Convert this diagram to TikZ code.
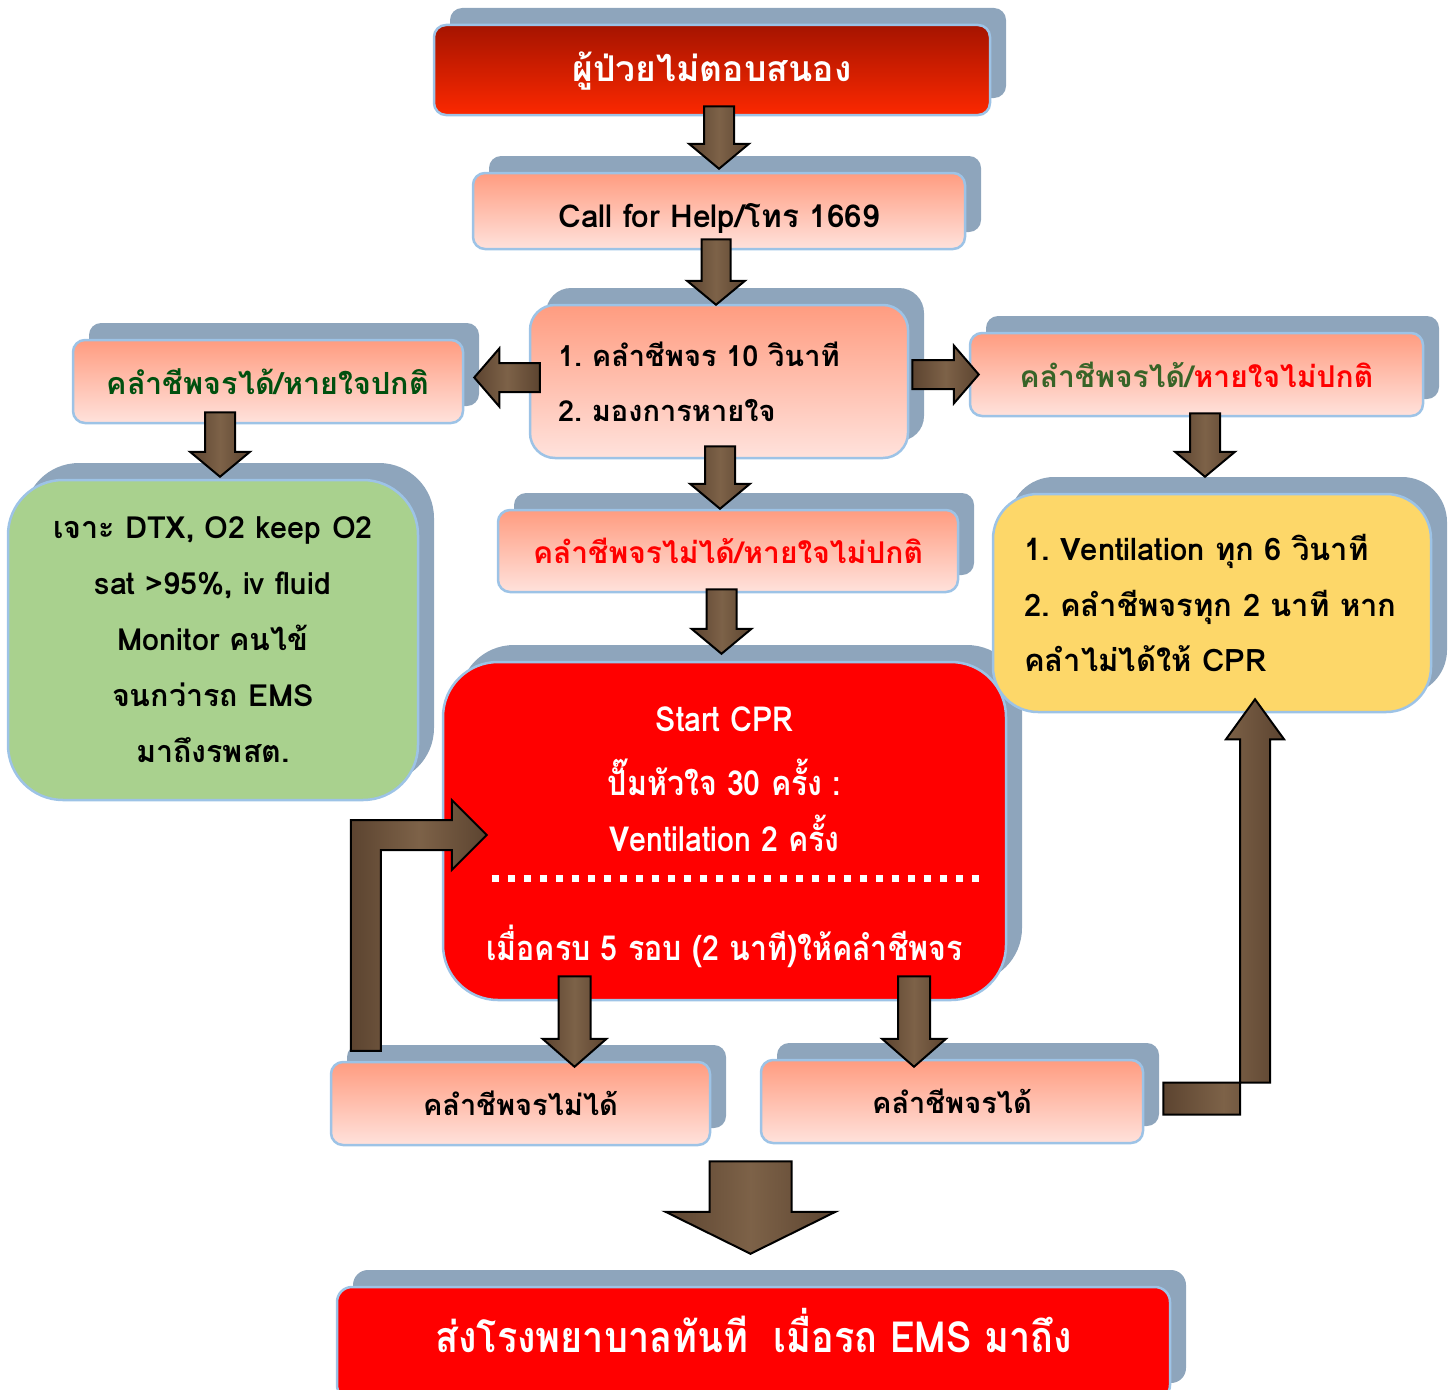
\documentclass[tikz,border=0pt]{standalone}
\usepackage{fontspec}
\newfontfamily\thai[Script=Thai]{Loma Bold}
\newfontfamily\thainarrow[Script=Thai,FakeStretch=0.88]{Loma Bold}
\usetikzlibrary{calc,shadows}
\frenchspacing

\definecolor{shadowblue}{RGB}{142,165,188}
\definecolor{edgeblue}{RGB}{157,195,230}
\definecolor{salmontop}{RGB}{255,156,128}
\definecolor{salmonbot}{RGB}{255,226,220}
\definecolor{darkred}{RGB}{165,20,0}
\definecolor{brightred}{RGB}{252,40,0}
\definecolor{boxgreen}{RGB}{169,209,142}
\definecolor{boxyellow}{RGB}{253,215,105}
\definecolor{txtgreen}{RGB}{0,80,15}
\definecolor{olivegreen}{RGB}{56,100,40}
\definecolor{arrowbrown}{RGB}{92,68,48}
\definecolor{arrowlight}{RGB}{125,98,72}

\tikzset{
  base/.style={rounded corners=12pt, draw=edgeblue, line width=2.5pt, inner sep=0pt,
    general shadow={shadow xshift=16pt, shadow yshift=17pt, fill=shadowblue, draw=none},
    font=\thai\fontsize{29pt}{35pt}\selectfont},
  pinkbox/.style={base, top color=salmontop, bottom color=salmonbot},
  redtop/.style={base, top color=darkred, bottom color=brightred, text=white},
  redbox/.style={base, fill=red, text=white},
  greenbox/.style={base, rounded corners=55pt, fill=boxgreen},
  yellowbox/.style={base, rounded corners=45pt, fill=boxyellow},
  cprtext/.style={text=white, inner sep=0pt, font=\thainarrow\fontsize{34.5pt}{40pt}\selectfont},
  arrowbody/.style={draw=black, line width=2pt, line join=miter,
    left color=arrowbrown, right color=arrowbrown, middle color=arrowlight},
  dotline/.style={white, line width=7pt, dash pattern=on 7pt off 9pt}
}

% block arrow: start, tip, half shaft, half head, head length
\newcommand{\blockarrow}[5]{%
  \coordinate (ba-s) at #1;
  \coordinate (ba-t) at #2;
  \coordinate (ba-h) at ($(ba-t)!#5!(ba-s)$);
  \draw[arrowbody] ($(ba-s)!#3!90:(ba-t)$) -- ($(ba-h)!#3!90:(ba-t)$) -- ($(ba-h)!#4!90:(ba-t)$)
    -- (ba-t) -- ($(ba-h)!#4!-90:(ba-t)$) -- ($(ba-h)!#3!-90:(ba-t)$) -- ($(ba-s)!#3!-90:(ba-t)$) -- cycle;
}

\begin{document}
\begin{tikzpicture}[x=1pt,y=-1pt]
    \useasboundingbox (0,0) rectangle (1455,1389);
    % boxes
    \node[redtop, minimum width=556pt, minimum height=90pt, font=\thai\fontsize{35.5pt}{42pt}\selectfont]
      (onset) at (712,70) {\raisebox{-12pt}[0pt][0pt]{ผู้ป่วยไม่ตอบสนอง}};
    \node[pinkbox, minimum width=492pt, minimum height=76pt, font=\thai\fontsize{31.5pt}{38pt}\selectfont]
      (call) at (719,211) {\raisebox{-16pt}[0pt][0pt]{Call for Help/โทร 1669}};
    \node[pinkbox, rounded corners=25pt, minimum width=378pt, minimum height=153pt,
      align=left, text width=322pt, font=\thai\fontsize{29pt}{55pt}\selectfont] (chk) at (719,381.5)
      {\mbox{1. คลำชีพจร 10 วินาที}\\\mbox{2. มองการหายใจ}};
    \node[pinkbox, minimum width=390pt, minimum height=83pt, text=txtgreen,
      font=\thai\fontsize{30.5pt}{36pt}\selectfont] (normal) at (268,381.5) {คลำชีพจรได้/หายใจปกติ};
    \node[pinkbox, minimum width=453pt, minimum height=83pt, font=\thai\fontsize{30pt}{36pt}\selectfont] (abnormal) at (1196.5,374.5)
      {\textcolor{olivegreen}{คลำชีพจรได้/}\textcolor{red}{หายใจไม่ปกติ}};
    \node[greenbox, minimum width=410pt, minimum height=320pt, align=center, text width=400pt,
      font=\thai\fontsize{30.5pt}{56pt}\selectfont] (green) at (213,640)
      {เจาะ DTX, O2 keep O2\\sat >95\%, iv fluid\\Monitor คนไข้\\จนกว่ารถ EMS\\มาถึงรพสต.};
    \node[pinkbox, minimum width=460pt, minimum height=82pt, text=red,
      font=\thai\fontsize{30pt}{36pt}\selectfont] (middle) at (728,551) {คลำชีพจรไม่ได้/หายใจไม่ปกติ};
    \node[redbox, rounded corners=55pt, minimum width=563pt, minimum height=338pt] (cpr) at (724.5,831) {};
    \node[yellowbox, minimum width=438pt, minimum height=218pt, align=left, text width=376pt,
      font=\thai\fontsize{31pt}{55.5pt}\selectfont] (vent) at (1212,603)
      {\mbox{1. Ventilation ทุก 6 วินาที}\\\mbox{2. คลำชีพจรทุก 2 นาที หาก}\\\mbox{คลำไม่ได้ให้ CPR}};
    \node[pinkbox, minimum width=379pt, minimum height=83pt] (no) at (520.5,1103.5) {คลำชีพจรไม่ได้};
    \node[pinkbox, minimum width=382pt, minimum height=83pt] (yes) at (952,1101.5) {คลำชีพจรได้};
    \node[redbox, rounded corners=15pt, minimum width=833pt, minimum height=113pt,
      font=\thainarrow\fontsize{43pt}{50pt}\selectfont] (final) at (753.5,1343.5)
      {\raisebox{-8.5pt}[0pt][0pt]{ส่งโรงพยาบาลทันที\ \ เมื่อรถ EMS มาถึง}};
    % text in the CPR box
    \node[cprtext] (cpr1) at ($(cpr.north)+(0,58)$) {Start CPR};
    \node[cprtext] (cpr2) at ($(cpr.north)+(0,117)$) {ปั๊มหัวใจ 30 ครั้ง :};
    \node[cprtext] (cpr3) at ($(cpr.north)+(0,173)$) {Ventilation 2 ครั้ง};
    \node[cprtext] (cpr4) at ($(cpr.north)+(0,286)$) {เมื่อครบ 5 รอบ (2 นาที)ให้คลำชีพจร};
    \draw[dotline] ($(cpr.west)+(50,47)$) -- ($(cpr.east)+(-26,47)$);
    % straight arrows
    \blockarrow{($(call.north |- onset.south)+(0,-10)$)}{($(call.north)+(0,-3)$)}{15pt}{30pt}{25pt}
    \blockarrow{($(chk.north |- call.south)+(-3,-11)$)}{($(chk.north)+(-3,1)$)}{14.5pt}{29pt}{24pt}
    \blockarrow{($(chk.west |- normal.east)+(11,-4)$)}{($(normal.east)+(10,-4)$)}{14.5pt}{29pt}{25pt}
    \blockarrow{($(chk.east |- abnormal.west)+(3,0)$)}{($(abnormal.west)+(10,0)$)}{14.5pt}{29pt}{25pt}
    \blockarrow{($(green.north |- normal.south)+(7,-12)$)}{($(green.north)+(7,-2)$)}{15pt}{30pt}{25pt}
    \blockarrow{($(middle.north |- chk.south)+(-8,-13)$)}{($(middle.north)+(-8,0)$)}{15pt}{30pt}{25pt}
    \blockarrow{($(cpr.north |- middle.south)+(-3,-4)$)}{($(cpr.north)+(-3,-7)$)}{15pt}{30pt}{25pt}
    \blockarrow{($(vent.north |- abnormal.south)+(-7,-4)$)}{($(vent.north)+(-7,-16)$)}{15pt}{30pt}{25pt}
    \blockarrow{($(no.north |- cpr.south)+(54,-25)$)}{($(no.north)+(54,6)$)}{16pt}{32pt}{28pt}
    \blockarrow{($(yes.north |- cpr.south)+(-38,-25)$)}{($(yes.north)+(-38,8)$)}{16pt}{32pt}{28pt}
    \blockarrow{($(final.north |- no.south)+(-3,15)$)}{($(final.north)+(-3,-32)$)}{41pt}{85pt}{42pt}
    % bent arrows
    \draw[arrowbody] let \p1=($(no.north west)+(36,-10)$), \p2=($(cpr.west)+(45,4)$) in
      (\x1-15pt,\y1) -- (\x1-15pt,\y2+15pt) -- (\x2-35pt,\y2+15pt) -- (\x2-35pt,\y2+35pt) -- (\p2)
      -- (\x2-35pt,\y2-35pt) -- (\x2-35pt,\y2-15pt) -- (\x1+15pt,\y2-15pt) -- (\x1+15pt,\y1) -- cycle;
    \draw[arrowbody] let \p1=($(yes.east)+(19,-3)$), \p2=($(vent.south)+(43,-14)$) in
      (\x1,\y1+16pt) -- (\x2+15pt,\y1+16pt) -- (\x2+15pt,\y2-40pt) -- (\x2+29pt,\y2-40pt) -- (\p2)
      -- (\x2-29pt,\y2-40pt) -- (\x2-15pt,\y2-40pt) -- (\x2-15pt,\y1-16pt) -- (\x1,\y1-16pt) -- cycle;
\end{tikzpicture}
\end{document}
